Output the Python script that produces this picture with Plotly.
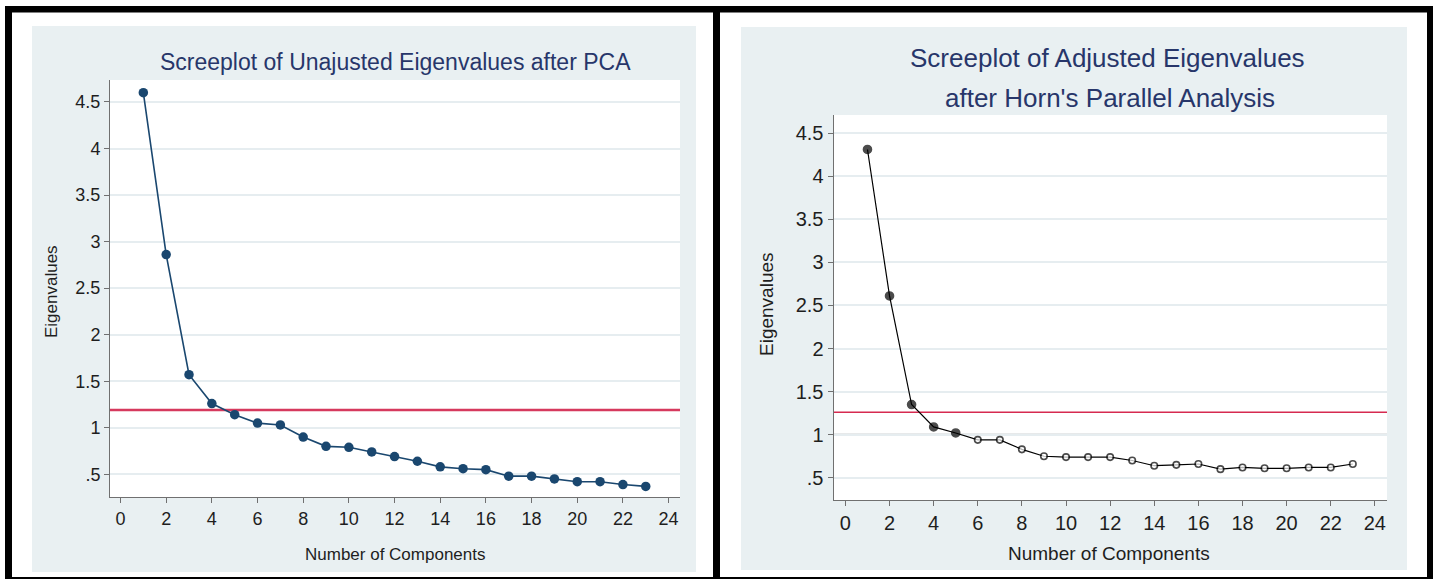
import plotly.graph_objects as go

# ---------------- data ----------------
components = list(range(1, 24))
unadjusted_eigenvalues = [4.60, 2.86, 1.57, 1.26, 1.14, 1.05, 1.03, 0.90, 0.80, 0.79,
                          0.74, 0.69, 0.64, 0.58, 0.56, 0.55, 0.48, 0.48, 0.45, 0.42,
                          0.42, 0.39, 0.37]
adjusted_eigenvalues = [4.31, 2.61, 1.35, 1.09, 1.02, 0.94, 0.94, 0.83, 0.75, 0.74,
                        0.74, 0.74, 0.70, 0.64, 0.65, 0.66, 0.60, 0.62, 0.61, 0.61,
                        0.62, 0.62, 0.66]
unadjusted_threshold = 1.19
adjusted_threshold = 1.26
retained_adjusted = 5

y_tickvals = [0.5, 1, 1.5, 2, 2.5, 3, 3.5, 4, 4.5]
y_ticktext = [".5", "1", "1.5", "2", "2.5", "3", "3.5", "4", "4.5"]
x_tickvals = [0, 2, 4, 6, 8, 10, 12, 14, 16, 18, 20, 22, 24]

title_left = "Screeplot of Unajusted Eigenvalues after PCA"
title_right_1 = "Screeplot of Adjusted Eigenvalues"
title_right_2 = "after Horn's Parallel Analysis"
x_title = "Number of Components"
y_title = "Eigenvalues"

# ---------------- styling ----------------
W, H = 1435, 579
FONT = "Liberation Sans, Arial, sans-serif"
NAVY = "#1a476f"
TITLE_COL = "#27366a"
BG = "#e9f0f2"
GRID = "#e6edf0"
AXIS = "#707070"
TICKCOL = "#1e1e1e"

# plot-area pixel boxes (left, right, top, bottom)
L_BOX = (110, 680, 80, 497)
R_BOX = (833.5, 1387, 115, 500)


def px(x):
    return x / W


def py(y):
    return 1 - y / H


fig = go.Figure()

# Left panel trace
fig.add_trace(go.Scatter(
    x=components, y=unadjusted_eigenvalues, mode="lines+markers",
    line=dict(color=NAVY, width=1.6),
    marker=dict(color=NAVY, size=9.5, line=dict(color=NAVY, width=0)),
    xaxis="x", yaxis="y", showlegend=False, hoverinfo="x+y"))

# Right panel trace
n = len(adjusted_eigenvalues)
mcolors = ["black"] * retained_adjusted + ["white"] * (n - retained_adjusted)
msizes = [8] * retained_adjusted + [6.5] * (n - retained_adjusted)
fig.add_trace(go.Scatter(
    x=components, y=adjusted_eigenvalues, mode="lines+markers",
    line=dict(color="black", width=1.2),
    marker=dict(color=mcolors, size=msizes, line=dict(color="black", width=1.6)),
    xaxis="x2", yaxis="y2", showlegend=False, hoverinfo="x+y"))

axis_common = dict(
    showline=True, linecolor=AXIS, linewidth=1, mirror=False,
    ticks="outside", ticklen=5, tickcolor=AXIS, tickwidth=1,
    zeroline=False,
)

fig.update_layout(
    width=W, height=H,
    margin=dict(l=0, r=0, t=0, b=0),
    paper_bgcolor="white", plot_bgcolor="white",
    font=dict(family=FONT, color=TICKCOL),
    xaxis=dict(domain=[px(L_BOX[0]), px(L_BOX[1])], range=[-0.46, 24.5], tickvals=x_tickvals,
               showgrid=False, anchor="y", tickfont=dict(size=18), **axis_common),
    yaxis=dict(domain=[py(L_BOX[3]), py(L_BOX[2])], range=[0.256, 4.736], tickvals=y_tickvals,
               ticktext=y_ticktext, showgrid=True, gridcolor=GRID, gridwidth=1.5,
               anchor="x", tickfont=dict(size=18), **axis_common),
    xaxis2=dict(domain=[px(R_BOX[0]), px(R_BOX[1])], range=[-0.54, 24.55], tickvals=x_tickvals,
                showgrid=False, anchor="y2", tickfont=dict(size=20), **axis_common),
    yaxis2=dict(domain=[py(R_BOX[3]), py(R_BOX[2])], range=[0.242, 4.71], tickvals=y_tickvals,
                ticktext=y_ticktext, showgrid=True, gridcolor=GRID, gridwidth=1.5,
                anchor="x2", tickfont=dict(size=20), **axis_common),
)

shapes = []
# light graph-region backgrounds
shapes.append(dict(type="rect", xref="paper", yref="paper", layer="below",
                   x0=px(32), x1=px(696), y0=py(572), y1=py(26),
                   fillcolor=BG, line=dict(width=0)))
shapes.append(dict(type="rect", xref="paper", yref="paper", layer="below",
                   x0=px(741), x1=px(1407), y0=py(570), y1=py(27),
                   fillcolor=BG, line=dict(width=0)))
# white plot regions
for (l, r, t, b) in (L_BOX, R_BOX):
    shapes.append(dict(type="rect", xref="paper", yref="paper", layer="below",
                       x0=px(l), x1=px(r), y0=py(b), y1=py(t),
                       fillcolor="white", line=dict(width=0)))
# black frame pieces
for (x0, x1, y0, y1) in [(5, 1433, 6, 12.5), (5, 12, 6, 579), (713, 720, 6, 579),
                         (1427, 1433, 6, 579), (5, 1433, 577, 579)]:
    shapes.append(dict(type="rect", xref="paper", yref="paper", layer="above",
                       x0=px(x0), x1=px(x1), y0=py(y1), y1=py(y0),
                       fillcolor="black", line=dict(width=0)))
# darker gridline at 1 on right panel
shapes.append(dict(type="line", xref="x2 domain", yref="y2", layer="below",
                   x0=0, x1=1, y0=1, y1=1, line=dict(color="#cfd4d6", width=2.5)))
# threshold lines
shapes.append(dict(type="line", xref="x domain", yref="y", layer="below",
                   x0=0, x1=1, y0=unadjusted_threshold, y1=unadjusted_threshold,
                   line=dict(color="#d63a5e", width=2.6)))
shapes.append(dict(type="line", xref="x2 domain", yref="y2", layer="below",
                   x0=0, x1=1, y0=adjusted_threshold, y1=adjusted_threshold,
                   line=dict(color="#d62a50", width=1.4)))
fig.update_layout(shapes=shapes)

annotations = [
    dict(text=title_left, x=px(395), y=py(62), font=dict(size=23, color=TITLE_COL)),
    dict(text=title_right_1, x=px(1107), y=py(58), font=dict(size=26, color=TITLE_COL)),
    dict(text=title_right_2, x=px(1110), y=py(98), font=dict(size=26, color=TITLE_COL)),
    dict(text=x_title, x=px(395), y=py(554), font=dict(size=17, color=TICKCOL)),
    dict(text=x_title, x=px(1109), y=py(553), font=dict(size=19, color=TICKCOL)),
    dict(text=y_title, x=px(51), y=py(292), textangle=-90, font=dict(size=17, color=TICKCOL)),
    dict(text=y_title, x=px(766), y=py(304), textangle=-90, font=dict(size=19, color=TICKCOL)),
]
for a in annotations:
    a.update(xref="paper", yref="paper", showarrow=False, xanchor="center", yanchor="middle")
fig.update_layout(annotations=annotations)

fig.write_html("out.html", config={"displayModeBar": False},
               post_script="document.body.style.margin='0px';")
